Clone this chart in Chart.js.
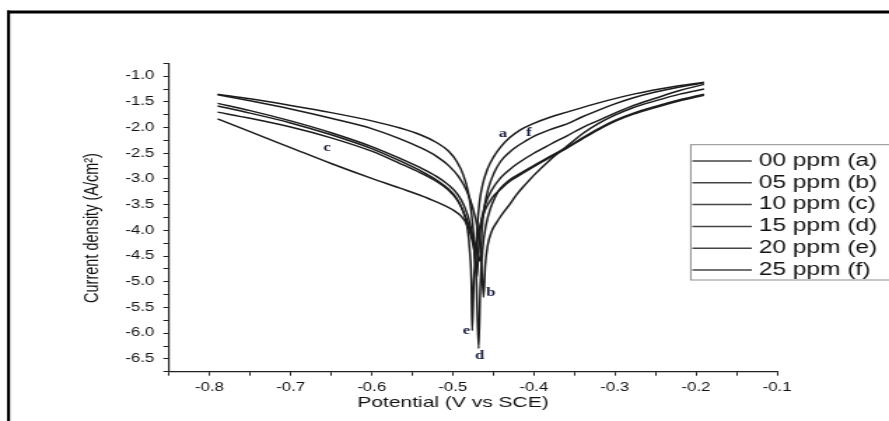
<!DOCTYPE html>
<html lang="en">
<head>
  <meta charset="UTF-8">
  <title>Tafel plots</title>
  <script src="https://cdn.jsdelivr.net/npm/chart.js"></script>
  <style>
    html, body { margin: 0; padding: 0; background: #fff; overflow: hidden; }
  </style>
</head>
<body>
  <!-- the source figure is stretched sideways, so the canvas is too -->
  <canvas id="tafel" width="635" height="421" style="display:block;width:889px;height:421px"></canvas>

  <script>
// series labels
const seriesNames = ['00 ppm (a)', '05 ppm (b)', '10 ppm (c)', '15 ppm (d)', '20 ppm (e)', '25 ppm (f)'];

// potential (V vs SCE) and log current density
const potA = [-0.79, -0.75, -0.70, -0.65, -0.60, -0.565, -0.54, -0.52, -0.505, -0.495, -0.487, -0.481, -0.477, -0.474, -0.472, -0.470, -0.467, -0.463, -0.457, -0.45, -0.441, -0.43, -0.417, -0.40, -0.38, -0.359, -0.32, -0.277, -0.23, -0.19];
const curA = [-1.35, -1.44, -1.57, -1.71, -1.87, -2.01, -2.14, -2.29, -2.46, -2.66, -2.92, -3.25, -3.65, -4.15, -4.7, -4.0, -3.45, -3.1, -2.8, -2.58, -2.38, -2.2, -2.05, -1.92, -1.8, -1.7, -1.52, -1.35, -1.21, -1.12];

const potB = [-0.79, -0.75, -0.70, -0.65, -0.60, -0.565, -0.54, -0.52, -0.505, -0.493, -0.483, -0.475, -0.469, -0.465, -0.462, -0.460, -0.457, -0.452, -0.446, -0.441, -0.43, -0.421, -0.41, -0.40, -0.38, -0.359, -0.34, -0.32, -0.30, -0.277, -0.25, -0.22, -0.19];
const curB = [-1.36, -1.48, -1.64, -1.82, -2.02, -2.22, -2.39, -2.56, -2.74, -2.95, -3.22, -3.58, -4.0, -4.5, -5.3, -4.7, -4.3, -4.02, -3.85, -3.73, -3.5, -3.3, -3.1, -2.93, -2.63, -2.36, -2.12, -1.92, -1.76, -1.61, -1.48, -1.35, -1.25];

const potC = [-0.79, -0.75, -0.70, -0.65, -0.60, -0.565, -0.53, -0.50, -0.49, -0.482, -0.476, -0.472, -0.470, -0.468, -0.465, -0.46, -0.452, -0.441, -0.43, -0.421, -0.40, -0.38, -0.359, -0.34, -0.32, -0.30, -0.277, -0.25, -0.22, -0.19];
const curC = [-1.83, -2.08, -2.39, -2.70, -2.99, -3.18, -3.38, -3.6, -3.72, -3.9, -4.2, -4.55, -4.9, -4.3, -3.85, -3.5, -3.22, -2.98, -2.82, -2.71, -2.5, -2.33, -2.16, -2.0, -1.86, -1.72, -1.57, -1.43, -1.28, -1.16];

const potD = [-0.79, -0.75, -0.70, -0.65, -0.60, -0.565, -0.54, -0.52, -0.505, -0.494, -0.486, -0.479, -0.474, -0.471, -0.468, -0.466, -0.463, -0.459, -0.453, -0.447, -0.441, -0.43, -0.421, -0.40, -0.38, -0.359, -0.34, -0.32, -0.30, -0.277, -0.25, -0.22, -0.19];
const curD = [-1.53, -1.67, -1.87, -2.1, -2.37, -2.6, -2.78, -2.95, -3.12, -3.3, -3.52, -3.85, -4.3, -4.9, -6.3, -5.1, -4.35, -3.9, -3.55, -3.33, -3.18, -3.02, -2.93, -2.74, -2.56, -2.38, -2.2, -2.02, -1.86, -1.72, -1.59, -1.46, -1.35];

const potE = [-0.79, -0.75, -0.70, -0.65, -0.60, -0.565, -0.54, -0.52, -0.505, -0.495, -0.488, -0.482, -0.479, -0.477, -0.476, -0.474, -0.471, -0.467, -0.46, -0.452, -0.441, -0.43, -0.421, -0.40, -0.38, -0.359, -0.34, -0.32, -0.30, -0.277, -0.25, -0.22, -0.19];
const curE = [-1.58, -1.72, -1.91, -2.14, -2.41, -2.65, -2.84, -3.02, -3.2, -3.38, -3.6, -3.95, -4.4, -5.0, -5.95, -5.0, -4.35, -3.95, -3.6, -3.38, -3.2, -3.05, -2.96, -2.76, -2.58, -2.4, -2.22, -2.04, -1.88, -1.74, -1.61, -1.48, -1.37];

const potF = [-0.79, -0.75, -0.70, -0.65, -0.60, -0.565, -0.54, -0.52, -0.505, -0.494, -0.485, -0.477, -0.471, -0.466, -0.464, -0.461, -0.456, -0.449, -0.441, -0.43, -0.421, -0.41, -0.40, -0.38, -0.359, -0.34, -0.32, -0.30, -0.277, -0.25, -0.22, -0.19];
const curF = [-1.70, -1.82, -1.99, -2.2, -2.46, -2.7, -2.88, -3.05, -3.22, -3.42, -3.7, -4.05, -4.35, -4.6, -4.0, -3.55, -3.18, -2.88, -2.66, -2.48, -2.37, -2.26, -2.17, -2.04, -1.93, -1.79, -1.66, -1.54, -1.42, -1.31, -1.21, -1.13];

// small letters written next to the curves (in data units)
const markText = ['a', 'f', 'b', 'e', 'd', 'c'];
const markPot = [-0.438, -0.406, -0.453, -0.483, -0.467, -0.655];
const markCur = [-2.13, -2.11, -5.22, -5.96, -6.44, -2.39];

const SANS = '"Liberation Sans", Arial, sans-serif';
const INK = '#1c1c1c';

function toPoints(pots, curs) {
  return pots.map((p, i) => ({ x: p, y: curs[i] }));
}

const allPots = [potA, potB, potC, potD, potE, potF];
const allCurs = [curA, curB, curC, curD, curE, curF];

const datasets = seriesNames.map((name, i) => ({
  label: name,
  data: toPoints(allPots[i], allCurs[i]),
  showLine: true,
  borderColor: INK,
  borderWidth: 1.5,
  pointRadius: 0,
  cubicInterpolationMode: 'monotone',
  fill: false
}));

function onStep(v, step) {
  const k = v / step;
  return Math.abs(k - Math.round(k)) < 1e-6;
}

// frame, axis titles, legend box and curve letters
const decor = {
  id: 'decor',
  afterDraw(chart) {
    const ctx = chart.ctx;
    const xs = chart.scales.x;
    const ys = chart.scales.y;
    ctx.save();

    ctx.fillStyle = '#000';
    ctx.fillRect(5, 10.5, 640, 3);
    ctx.fillRect(5, 10.5, 2.2, 420);

    ctx.fillStyle = '#111';
    ctx.textAlign = 'center';
    ctx.textBaseline = 'middle';
    ctx.font = '15px ' + SANS;
    ctx.fillText('Potential (V vs SCE)', 323.6, 403);

    ctx.save();
    ctx.translate(66, 228);
    ctx.rotate(-Math.PI / 2);
    ctx.font = '14.5px ' + SANS;
    ctx.fillText('Current density (A/cm²)', 0, 0);
    ctx.restore();

    // legend
    ctx.strokeStyle = '#8c8c8c';
    ctx.lineWidth = 1;
    ctx.strokeRect(493.4, 144.7, 200, 135.3);
    ctx.textAlign = 'left';
    ctx.font = '17.5px ' + SANS;
    seriesNames.forEach((name, i) => {
      const y = 161 + i * 21.8;
      ctx.strokeStyle = '#444';
      ctx.lineWidth = 1.5;
      ctx.beginPath();
      ctx.moveTo(494.5, y);
      ctx.lineTo(537, y);
      ctx.stroke();
      ctx.fillStyle = '#111';
      ctx.fillText(name, 542, y);
    });

    // letters on the curves
    ctx.font = 'bold 12px "Liberation Serif", "Times New Roman", serif';
    ctx.fillStyle = '#1b1d3c';
    ctx.textAlign = 'center';
    markText.forEach((t, i) => {
      ctx.fillText(t, xs.getPixelForValue(markPot[i]), ys.getPixelForValue(markCur[i]));
    });

    ctx.restore();
  }
};

const ctx = document.getElementById('tafel').getContext('2d');
new Chart(ctx, {
  type: 'scatter',
  data: { datasets: datasets },
  options: {
    responsive: false,
    animation: false,
    devicePixelRatio: 1,
    layout: { padding: { left: 0, top: 63.3, right: 80, bottom: 0 } },
    plugins: {
      legend: { display: false },
      tooltip: { enabled: false }
    },
    scales: {
      x: {
        type: 'linear',
        min: -0.85,
        max: -0.1,
        afterFit(scale) { scale.height = 49.3; },
        grid: { drawOnChartArea: false, tickLength: 4, color: '#222' },
        border: { color: '#222', width: 1.2 },
        ticks: {
          stepSize: 0.05,
          autoSkip: false,
          maxRotation: 0,
          padding: 5,
          color: '#111',
          font: { family: SANS, size: 12 },
          callback: v => onStep(v, 0.1) ? v.toFixed(1) : ''
        }
      },
      y: {
        type: 'linear',
        min: -6.75,
        max: -0.75,
        afterFit(scale) { scale.width = 120.7; },
        grid: { drawOnChartArea: false, tickLength: 4, color: '#222' },
        border: { color: '#222', width: 1.2 },
        ticks: {
          stepSize: 0.25,
          autoSkip: false,
          padding: 6.5,
          color: '#111',
          font: { family: SANS, size: 12 },
          callback: v => onStep(v, 0.5) ? v.toFixed(1) : ''
        }
      }
    }
  },
  plugins: [decor]
});
  </script>
</body>
</html>
